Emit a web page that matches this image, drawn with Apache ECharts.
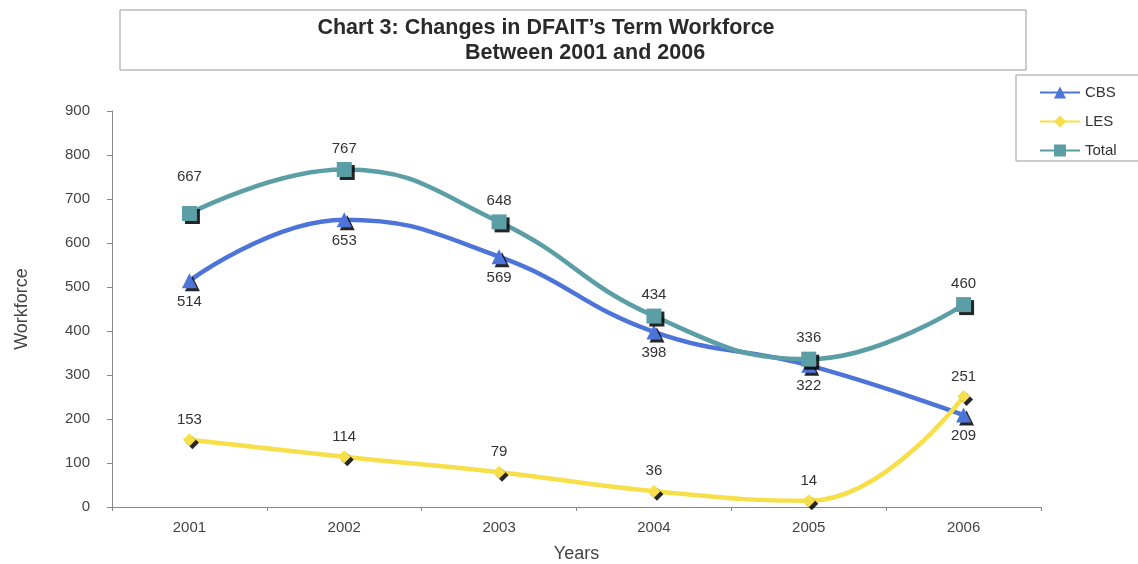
<!DOCTYPE html>
<html><head><meta charset="utf-8">
<script src="https://cdn.jsdelivr.net/npm/echarts@6/dist/echarts.min.js"></script>
<style>html,body{margin:0;padding:0;background:#fff}#c{width:1138px;height:564px}</style>
</head><body><div id="c"></div>
<script>
const years = ['2001','2002','2003','2004','2005','2006'];
const cbs = [514, 653, 569, 398, 322, 209];
const les = [153, 114, 79, 36, 14, 251];
const total = [667, 767, 648, 434, 336, 460];
const yTicks = {min: 0, max: 900, interval: 100};

const chart = echarts.init(document.getElementById('c'));
const shadow = {shadowColor: 'rgba(0,0,0,0.85)', shadowOffsetX: 3, shadowOffsetY: 3, shadowBlur: 0};
const FONT = 'Liberation Sans';
function mk(name, values, color, symbol, size, labelPos, extraOffsets) {
  const data = values.map((v, i) => {
    if (extraOffsets && extraOffsets[i] !== undefined) {
      return {value: v, label: {offset: [0, extraOffsets[i]]}};
    }
    return v;
  });
  return {
    name, type: 'line', data, smooth: 0.45,
    symbol, symbolSize: size,
    lineStyle: {color, width: 4.5},
    itemStyle: Object.assign({color}, shadow),
    label: {show: true, position: labelPos, distance: 6, color: '#333', fontSize: 15, fontFamily: FONT},
    z: name === 'Total' ? 3 : 2
  };
}
chart.setOption({
  animation: false,
  backgroundColor: '#fff',
  graphic: [
    {type: 'rect', shape: {x: 120, y: 10, width: 906, height: 60}, style: {fill: '#fff', stroke: '#999', lineWidth: 1}},
    {type: 'text', x: 546, y: 28, style: {text: 'Chart 3: Changes in DFAIT\u2019s Term Workforce', font: 'bold 21.5px "Liberation Sans", Arial', fill: '#2a2a2a', align: 'center', verticalAlign: 'middle'}},
    {type: 'text', x: 585, y: 53, style: {text: 'Between 2001 and 2006', font: 'bold 21.5px "Liberation Sans", Arial', fill: '#2a2a2a', align: 'center', verticalAlign: 'middle'}},
    {type: 'rect', shape: {x: 1016, y: 75, width: 130, height: 86}, style: {fill: 'none', stroke: '#999', lineWidth: 1}}
  ],
  legend: {
    orient: 'vertical', left: 1034, top: 80, itemGap: 14, itemWidth: 40, itemHeight: 15,
    textStyle: {color: '#333', fontSize: 15, fontFamily: FONT},
    data: ['CBS', 'LES', 'Total']
  },
  grid: {left: 112, right: 97, top: 111, bottom: 57, containLabel: false, outerBoundsMode: 'none'},
  xAxis: {
    type: 'category', data: years, boundaryGap: true,
    name: 'Years', nameLocation: 'middle', nameGap: 38,
    nameTextStyle: {color: '#444', fontSize: 18, fontFamily: FONT},
    axisLine: {lineStyle: {color: '#888'}},
    axisTick: {show: true, length: 4, lineStyle: {color: '#888'}},
    axisLabel: {color: '#444', fontSize: 15, margin: 13, fontFamily: FONT}
  },
  yAxis: {
    type: 'value', min: yTicks.min, max: yTicks.max, interval: yTicks.interval,
    name: 'Workforce', nameLocation: 'middle', nameGap: 81, nameRotate: 90,
    nameTextStyle: {color: '#444', fontSize: 18, fontFamily: FONT},
    axisLine: {show: true, lineStyle: {color: '#888'}},
    axisTick: {show: true, length: 5, lineStyle: {color: '#888'}},
    splitLine: {show: false},
    axisLabel: {color: '#444', fontSize: 15, margin: 22, fontFamily: FONT}
  },
  series: [
    mk('CBS', cbs, '#4d74d8', 'triangle', 15, 'bottom'),
    mk('LES', les, '#f7df4a', 'diamond', 13, 'top'),
    mk('Total', total, '#5b9ea6', 'rect', 15, 'top', {0: -16})
  ]
});
</script></body></html>
